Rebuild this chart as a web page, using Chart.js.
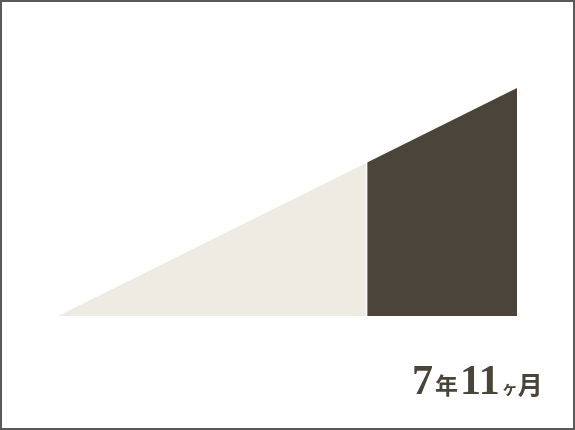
<!DOCTYPE html>
<html>
<head>
<meta charset="utf-8">
<script src="https://cdn.jsdelivr.net/npm/chart.js@4/dist/chart.umd.min.js"></script>
<style>
  html,body{margin:0;padding:0;background:#fff;}
  #wrap{position:relative;width:575px;height:430px;overflow:hidden;}
  #c{position:absolute;left:0;top:0;}
  #frame{position:absolute;left:0;top:0;width:575px;height:430px;box-sizing:border-box;border:2px solid #5a5a5a;pointer-events:none;}
  #label{position:absolute;left:412px;top:359px;color:#4a443a;display:flex;align-items:baseline;white-space:nowrap;line-height:1;}
  #label .num{font-size:42px;font-family:"Liberation Serif","DejaVu Serif",serif;font-weight:bold;}
  #label .unit{font-size:23px;font-family:"Noto Sans CJK JP",sans-serif;font-weight:bold;}
  #label .unit2{font-size:25px;font-family:"Noto Sans CJK JP",sans-serif;font-weight:bold;}
  #label .small{font-size:16px;font-family:"Noto Sans CJK JP",sans-serif;font-weight:bold;}
</style>
</head>
<body>
<div id="wrap">
  <canvas id="c" width="575" height="430"></canvas>
  <div id="frame"></div>
  <div id="label"><span class="num">7</span><span class="unit" style="margin-left:2px;margin-right:2px;">年</span><span class="num">11</span><span class="small" style="margin-left:2px;">ヶ</span><span class="unit2">月</span></div>
</div>
<script>
// Segment boundaries (x = elapsed time, years) and values (linear growth)
const segmentNames = ['before', '7年11ヶ月'];
const xStart = [0, 16.25];
const xEnd = [16.25, 24.17];
const yStart = [0, 16.25];
const yEnd = [16.25, 24.17];
const segmentColors = ['#eeebe3', '#4a443a'];

const datasets = segmentNames.map((name, i) => ({
  label: name,
  data: [{x: xStart[i], y: yStart[i]}, {x: xEnd[i], y: yEnd[i]}],
  backgroundColor: segmentColors[i],
  borderColor: segmentColors[i],
  borderWidth: 0,
  pointRadius: 0,
  fill: 'origin',
  tension: 0
}));

const separator = {
  id: 'separator',
  afterDatasetsDraw(chart) {
    const {ctx, chartArea, scales} = chart;
    const px = scales.x.getPixelForValue(xEnd[0]);
    ctx.save();
    ctx.strokeStyle = '#ffffff';
    ctx.lineWidth = 1.5;
    ctx.beginPath();
    ctx.moveTo(px, chartArea.top - 2);
    ctx.lineTo(px, chartArea.bottom + 2);
    ctx.stroke();
    ctx.restore();
  }
};

new Chart(document.getElementById('c'), {
  type: 'line',
  data: { datasets },
  options: {
    responsive: false,
    animation: false,
    layout: { padding: { left: 58, right: 58, top: 88, bottom: 114 } },
    plugins: { legend: { display: false }, tooltip: { enabled: false } },
    scales: {
      x: { type: 'linear', min: 0, max: xEnd[1], display: false },
      y: { min: 0, max: yEnd[1], display: false }
    }
  },
  plugins: [separator]
});
</script>
</body>
</html>
